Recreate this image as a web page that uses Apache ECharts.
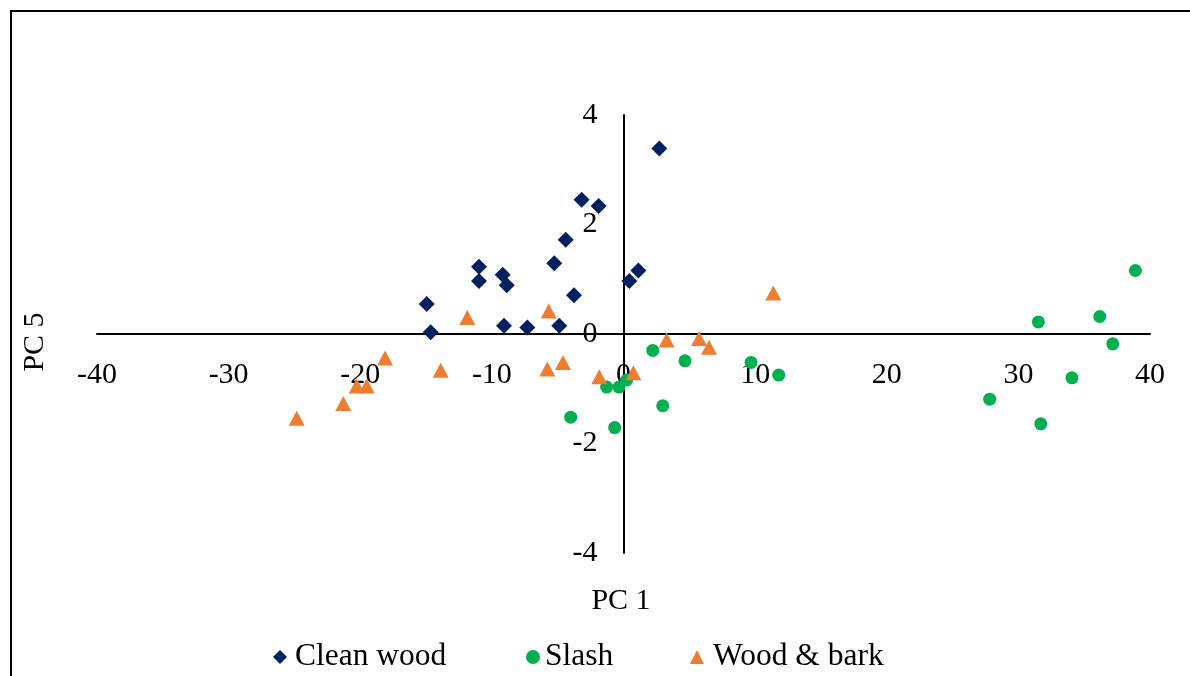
<!DOCTYPE html>
<html>
<head>
<meta charset="utf-8">
<script src="https://cdn.jsdelivr.net/npm/echarts@6/dist/echarts.min.js"></script>
<style>
html,body{margin:0;padding:0;background:#fff;}
#chart{width:1190px;height:676px;}
</style>
</head>
<body>
<div id="chart"></div>
<script>
const xTicks = [-40, -30, -20, -10, 0, 10, 20, 30, 40];
const yTicks = [-4, -2, 0, 2, 4];

const cleanWood = [
  [2.72, 3.39], [-3.18, 2.45], [-1.89, 2.34], [-4.39, 1.72], [-10.98, 1.23],
  [-10.98, 0.97], [-9.18, 1.08], [-8.87, 0.89], [-5.26, 1.29], [1.13, 1.16],
  [0.44, 0.97], [-3.76, 0.71], [-14.95, 0.55], [-14.65, 0.03], [-9.08, 0.15],
  [-7.31, 0.12], [-4.88, 0.15]
];
const slash = [
  [2.22, -0.30], [4.67, -0.49], [9.69, -0.52], [11.79, -0.75], [0.24, -0.84],
  [-0.34, -0.97], [-1.28, -0.97], [2.98, -1.31], [-4.01, -1.52], [-0.67, -1.71],
  [38.89, 1.16], [31.52, 0.22], [36.18, 0.32], [37.17, -0.18], [34.07, -0.80],
  [27.82, -1.19], [31.70, -1.64]
];
const woodBark = [
  [-24.83, -1.54], [-21.29, -1.27], [-20.27, -0.95], [-19.51, -0.95], [-18.12, -0.44],
  [-13.89, -0.66], [-11.87, 0.30], [-5.79, -0.64], [-5.68, 0.42], [-4.60, -0.52],
  [-1.84, -0.78], [0.75, -0.71], [3.28, -0.11], [5.74, -0.08], [6.50, -0.24],
  [11.38, 0.75]
];
const seriesNames = ['Clean wood', 'Slash', 'Wood & bark'];
const seriesIcons = ['diamond', 'circle', 'triangle'];

const FONT = 'Liberation Serif';
const GRID = {left: 97, right: 40, top: 115, bottom: 123};
const plotW = 1190 - GRID.left - GRID.right;
const plotH = 676 - GRID.top - GRID.bottom;
const xMin = xTicks[0], xMax = xTicks[xTicks.length - 1];
const yMin = yTicks[0], yMax = yTicks[yTicks.length - 1];
// move axes (line + labels) to cross at zero
const xAxisOffset = -plotH * (0 - yMin) / (yMax - yMin);
const yAxisOffset = -plotW * (0 - xMin) / (xMax - xMin);

const legendLefts = [268, 521, 685];
const legendTextPad = [3, 0, 4];
const legends = seriesNames.map((n, i) => ({
  top: 636, left: legendLefts[i],
  itemWidth: 14, itemHeight: 14,
  textStyle: {fontFamily: FONT, fontSize: 31.5, color: '#000', padding: [0, 0, 0, legendTextPad[i]]},
  data: [{name: n, icon: seriesIcons[i]}]
}));

const chart = echarts.init(document.getElementById('chart'), null, {renderer: 'canvas'});
chart.setOption({
  animation: false,
  backgroundColor: '#fff',
  grid: Object.assign({containLabel: false}, GRID),
  xAxis: {
    type: 'value', position: 'bottom', offset: xAxisOffset,
    min: xMin, max: xMax, interval: 10,
    splitLine: {show: false},
    axisTick: {show: false},
    axisLine: {onZero: false, lineStyle: {color: '#000', width: 2}},
    axisLabel: {fontFamily: FONT, fontSize: 30, color: '#000', margin: 26}
  },
  yAxis: {
    type: 'value', position: 'left', offset: yAxisOffset,
    min: yMin, max: yMax, interval: 2,
    splitLine: {show: false},
    axisTick: {show: false},
    axisLine: {onZero: false, lineStyle: {color: '#000', width: 2}},
    axisLabel: {fontFamily: FONT, fontSize: 30, color: '#000', margin: 26}
  },
  legend: legends,
  graphic: [
    {type: 'rect', shape: {x: 11, y: 11, width: 1200, height: 700},
     style: {fill: 'none', stroke: '#000', lineWidth: 2}, z: 100},
    {type: 'text', x: 621, y: 601,
     style: {text: 'PC 1', font: '30px "Liberation Serif"', fill: '#000', textAlign: 'center', textVerticalAlign: 'middle'}},
    {type: 'text', x: 35, y: 342, rotation: Math.PI / 2,
     style: {text: 'PC 5', font: '30px "Liberation Serif"', fill: '#000', textAlign: 'center', textVerticalAlign: 'middle'}}
  ],
  series: [
    {name: seriesNames[0], type: 'scatter', symbol: seriesIcons[0], symbolSize: 16,
     itemStyle: {color: '#002060', opacity: 1}, data: cleanWood},
    {name: seriesNames[1], type: 'scatter', symbol: seriesIcons[1], symbolSize: 13,
     itemStyle: {color: '#00B050', opacity: 1}, data: slash},
    {name: seriesNames[2], type: 'scatter', symbol: seriesIcons[2], symbolSize: [16, 15],
     itemStyle: {color: '#ED7D31', opacity: 1}, data: woodBark}
  ]
});
</script>
</body>
</html>
